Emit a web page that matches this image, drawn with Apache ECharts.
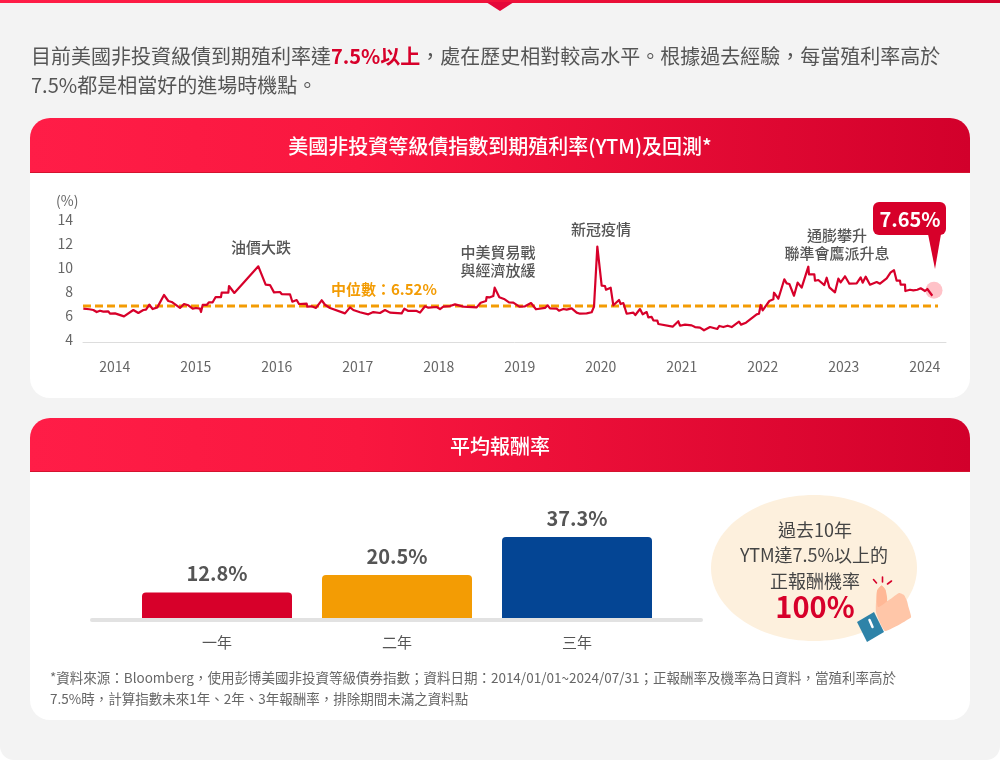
<!DOCTYPE html>
<html lang="zh-Hant">
<head>
<meta charset="utf-8">
<style>html,body{margin:0;padding:0;background:#fff}#c{width:1000px;height:760px}</style>
<script src="https://cdn.jsdelivr.net/npm/echarts@6/dist/echarts.min.js"></script>
</head>
<body>
<div id="c"></div>
<script>
// x unit of the YTM line: trading days since the start of 2014 (about 243 per year)
const ytmDays = [
-2,16,17,28,38,48,58,73,78,93,120,148,163,178,186,196,206,220,240,253,263,288,300,313,326,336,348,351,356,368,375,386,395,411,413,433,435,451,523,545,558,570,588,593,618,625,638,645,668,670,683,696,713,723,738,783,798,808,
828,853,868,888,903,918,953,961,973,998,1008,1023,1033,1058,1068,1078,1098,1101,1113,1138,1178,1190,1206,1208,1218,1228,1232,1246,1260,1275,1288,1306,1323,1341,1356,1383,1386,1391,1398,1418,1425,1438,1448,1463,1478,1488,1508,1523,1530,1540,1553,1563,1566,1580,1588,1605,1610,1618,1628,1648,1654,1668,1676,1688,1693,1703,1708,1720,1723,1766,
1783,1788,1803,1808,1823,1833,1848,1860,1878,1900,1906,1918,1931,1943,1965,1971,1986,2018,2025,2030,2036,2056,2068,2070,2083,2101,2108,2116,2130,2141,2153,2173,2175,2191,2193,2203,2221,2228,2236,2253,2263,2270,2283,2296,2318,2330,2336,2345,2358,2378,2388,2408,2413,2420,2430,2438,2448,2450,2463,2464,2478,2488,2493,2500,2510,2523,2530,2545];
const ytmValues = [
6.61,6.56,6.47,6.5,6.33,6.44,6.36,6.39,6.19,6.22,5.97,6.5,6.25,6.5,6.53,6.94,6.58,6.72,7.75,7.25,7.17,6.67,7.0,6.89,6.61,6.67,6.61,6.33,6.92,6.92,7.14,7.14,7.58,7.58,7.94,7.94,8.5,7.92,10.14,8.61,8.58,7.97,8.0,7.83,7.81,7.19,7.33,7.0,7.03,6.78,6.81,6.67,7.31,6.94,6.67,6.22,6.72,6.5,
6.31,6.14,6.33,6.25,6.5,6.28,6.22,6.61,6.42,6.42,6.28,6.81,6.69,6.75,6.58,6.78,6.83,6.72,6.97,6.78,6.72,7.11,7.25,7.58,7.56,7.67,8.36,7.56,7.42,7.14,7.11,6.78,6.81,7.08,6.56,6.67,6.61,6.89,6.64,6.61,6.44,6.58,6.53,6.64,6.28,6.19,6.22,6.31,6.78,11.78,8.53,8.5,8.19,8.36,6.89,7.33,7.0,7.08,6.19,6.28,6.08,6.58,6.14,6.33,5.89,5.92,5.64,5.61,5.33,5.11,
5.56,5.19,5.28,5.17,5.22,5.08,5.03,4.81,5.08,4.92,5.17,5.08,5.19,5.08,5.53,5.28,5.44,6.14,6.19,6.92,6.47,7.25,7.39,7.94,7.44,9.06,8.72,8.67,7.69,8.78,8.36,10.11,9.47,9.47,8.94,9.0,8.58,9.19,8.39,7.97,9.11,8.81,9.31,8.69,8.72,9.22,8.78,9.28,8.61,8.83,8.69,9.14,9.19,9.64,9.81,8.94,8.94,8.61,8.61,8.08,8.19,8.14,8.28,8.19,8.31,8.08,8.25,7.69];
const medianDays = [-3, 2562];
const medianLevel = 6.83;            // height of the dashed line as drawn in the picture
const latestDay = 2550, latestLevel = 8.14;
const yearLabels = ['2014','2015','2016','2017','2018','2019','2020','2021','2022','2023','2024'];
const yearTickDays = [92,335,578,821,1064,1307,1550,1793,2036,2279,2522];
const ytmTicks = {min:4, max:14, interval:2};

const returnCategories = ['一年','二年','三年'];
const returnValues = [12.8,20.5,37.3];
const returnColors = ['#d7002a','#f39c04','#044594'];

const FONT = '"Noto Sans CJK TC","Noto Sans",sans-serif';
const RED_GRAD = () => new echarts.graphic.LinearGradient(0,0,1,0,[{offset:0,color:'#ff1d47'},{offset:.35,color:'#f9173f'},{offset:1,color:'#d2002b'}]);

function txt(x,y,text,size,color,weight,align){
  return {type:'text',x:x,y:y,silent:true,style:{text:text,fontSize:size,fontFamily:FONT,fill:color,
    fontWeight:weight||'normal',align:align||'center',verticalAlign:'middle'}};
}
function rect(x,y,w,h,r,fill){
  return {type:'rect',silent:true,shape:{x:x,y:y,width:w,height:h,r:r},style:{fill:fill}};
}
function poly(points,fill,smooth){
  return {type:'polygon',silent:true,shape:{points:points,smooth:smooth||0},style:{fill:fill}};
}
function seg(x1,y1,x2,y2,color,w){
  return {type:'line',silent:true,shape:{x1:x1,y1:y1,x2:x2,y2:y2},style:{stroke:color,lineWidth:w,lineCap:'round'}};
}

const graphics = [
  rect(0,0,1000,760,[0,0,14,14],'#f3f3f3'),
  rect(0,0,1000,3,0,RED_GRAD()),
  poly([[486,2],[514,2],[500,11]],'#e5083a'),

  {type:'text',x:31,y:56,silent:true,style:{
    text:'{a|目前美國非投資級債到期殖利率達}{b|7.5%以上}{a|\uFF0C處在歷史相對較高水平。根據過去經驗\uFF0C每當殖利率高於}',
    fontFamily:FONT,fontSize:20,align:'left',verticalAlign:'middle',
    rich:{a:{fontSize:20,fontFamily:FONT,fill:'#555'},b:{fontSize:20,fontFamily:FONT,fill:'#d7002a',fontWeight:'bold'}}}},
  txt(31,85,'7.5%都是相當好的進場時機點。',20,'#555','normal','left'),

  // first card
  rect(30,118,940,280,20,'#fff'),
  rect(30,118,940,55,[20,20,0,0],RED_GRAD()),
  rect(30,172,940,1,0,'#d3142f'),
  txt(500,146,'美國非投資等級債指數到期殖利率(YTM)及回測*',20,'#fff','500'),
  txt(56,201,'(%)',14,'#666','normal','left'),

  txt(261,247,'油價大跌',15,'#555','500'),
  txt(498,252,'中美貿易戰',15,'#555','500'),
  txt(498,270,'與經濟放緩',15,'#555','500'),
  txt(601,229,'新冠疫情',15,'#555','500'),
  txt(837,235,'通膨攀升',15,'#555','500'),
  txt(837,253,'聯準會鷹派升息',15,'#555','500'),
  txt(331,289,'中位數\uFF1A6.52%',15,'#f39c04','bold','left'),

  rect(873,202,73,33,6,'#d7002a'),
  poly([[928,234],[941,234],[935,269]],'#d7002a'),
  txt(910,219,'7.65%',20,'#fff','bold'),

  // second card
  rect(30,418,940,302,20,'#fff'),
  rect(30,418,940,54,[20,20,0,0],RED_GRAD()),
  rect(30,471,940,1,0,'#d3142f'),
  txt(500,446,'平均報酬率',20,'#fff','500'),
  rect(90,618,613,4,2,'#e2e2e2'),

  {type:'ellipse',silent:true,shape:{cx:814,cy:568,rx:103,ry:73},style:{fill:'#fdf0dd'}},
  txt(815,530,'過去10年',18,'#444'),
  txt(814,555,'YTM達7.5%以上的',18,'#444'),
  txt(815,581,'正報酬機率',18,'#444'),
  txt(815,607,'100%',29,'#d7002a','bold'),

  // thumbs-up icon
  poly([[877,591],[881.5,585.5],[885.5,590],[887,601],[899,593],[904,595],[907,601],[908.5,607],[910,612],[911,617.5],[885,631],[876,612]],'#ffc6a8',0.15),
  poly([[877,591],[881.5,585.5],[885.5,590],[887,601],[878,607]],'#ffb896',0.2),
  poly([[857,622],[874,612],[884,632],[867,642]],'#2e83a8'),
  seg(869.5,620,872.5,627,'#fff',2.5),
  seg(873.5,579.5,876.5,583,'#d7002a',1.6),
  seg(882.5,577,882.5,582,'#d7002a',1.6),
  seg(891.5,581,887.5,584,'#d7002a',1.6),

  txt(50,678,'*資料來源\uFF1ABloomberg\uFF0C使用彭博美國非投資等級債券指數\uFF1B資料日期\uFF1A2014/01/01~2024/07/31\uFF1B正報酬率及機率為日資料\uFF0C當殖利率高於',13.5,'#666','normal','left'),
  txt(50,699,'7.5%時\uFF0C計算指數未來1年、2年、3年報酬率\uFF0C排除期間未滿之資料點',13.5,'#666','normal','left')
];

const chart = echarts.init(document.getElementById('c'),null,{renderer:'canvas'});
chart.setOption({
  animation:false,
  backgroundColor:'#fff',
  textStyle:{fontFamily:FONT},
  graphic:{elements:graphics},
  grid:[
    {left:83,width:863,top:220,height:120},
    {left:127,width:540,top:518,height:100}
  ],
  xAxis:[
    {type:'value',gridIndex:0,min:-3,max:2586,offset:2,
      axisLine:{show:true,onZero:false,lineStyle:{color:'#ddd',width:1}},
      axisTick:{show:false},splitLine:{show:false},
      axisLabel:{customValues:yearTickDays,margin:18,fontSize:14,color:'#666',fontFamily:FONT,
        formatter:v=>yearLabels[yearTickDays.indexOf(v)]}},
    {type:'category',gridIndex:1,data:returnCategories,
      axisLine:{show:false},axisTick:{show:false},
      axisLabel:{margin:17,fontSize:15,color:'#555',fontFamily:FONT}}
  ],
  yAxis:[
    {type:'value',gridIndex:0,min:ytmTicks.min,max:ytmTicks.max,interval:ytmTicks.interval,
      axisLine:{show:false},axisTick:{show:false},splitLine:{show:false},
      axisLabel:{margin:10,fontSize:14,color:'#666',fontFamily:FONT}},
    {type:'value',gridIndex:1,min:1.5,max:45.75,show:false,splitLine:{show:false}}
  ],
  series:[
    {type:'scatter',xAxisIndex:0,yAxisIndex:0,z:1,symbolSize:17,silent:true,
      data:[[latestDay,latestLevel]],itemStyle:{color:'#ffb3ba'}},
    {type:'line',xAxisIndex:0,yAxisIndex:0,z:2,showSymbol:false,symbol:'none',silent:true,
      data:medianDays.map(d=>[d,medianLevel]),
      lineStyle:{color:'#f39c04',width:3,type:[8,4]}},
    {type:'line',xAxisIndex:0,yAxisIndex:0,z:3,showSymbol:false,symbol:'none',silent:true,
      data:ytmDays.map((d,i)=>[d,ytmValues[i]]),
      lineStyle:{color:'#d7002a',width:2.2,join:'round'}},
    {type:'bar',xAxisIndex:1,yAxisIndex:1,barWidth:150,silent:true,
      data:returnValues.map((v,i)=>({value:v,itemStyle:{color:returnColors[i],borderRadius:[4,4,0,0]}})),
      label:{show:true,position:'top',distance:9,fontSize:20,fontWeight:'bold',color:'#555',fontFamily:FONT,
        formatter:p=>p.value.toFixed(1)+'%'}}
  ]
});
</script>
</body>
</html>
